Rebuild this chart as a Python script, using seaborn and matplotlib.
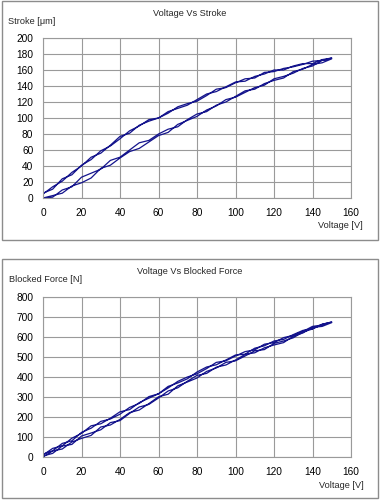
import numpy as np
import pandas as pd
import matplotlib
matplotlib.use("Agg")
import matplotlib.pyplot as plt
from matplotlib.patches import Rectangle
from matplotlib import font_manager
import seaborn as sns

# ---------------- data ----------------
voltage = [0, 5, 10, 15, 20, 25, 30, 35, 40, 45, 50, 55, 60, 65, 70, 75,
           80, 85, 90, 95, 100, 105, 110, 115, 120, 125, 130, 135, 140, 145, 150]

stroke_up_1 = [0, 3, 6, 15, 19, 25, 37, 41, 50, 58, 62, 70, 78, 82, 92, 97,
               102, 110, 115, 123, 126, 132, 138, 141, 149, 152, 156, 162, 165, 172, 175]
stroke_up_2 = [0, 1, 10, 14, 26, 31, 36, 47, 51, 60, 69, 72, 80, 86, 89, 98,
               105, 108, 116, 120, 127, 134, 136, 143, 147, 150, 158, 161, 167, 169, 174]
stroke_down_1 = [5, 14, 21, 32, 40, 51, 56, 66, 77, 81, 91, 96, 100, 108, 112, 116,
                 123, 130, 133, 139, 145, 146, 152, 155, 160, 160, 165, 168, 168, 173, 175]
stroke_down_2 = [6, 11, 24, 29, 41, 48, 59, 65, 74, 84, 90, 98, 100, 106, 114, 118,
                 121, 128, 136, 138, 144, 149, 150, 157, 158, 162, 164, 167, 171, 172, 174]

force_up_1 = [0, 30, 40, 75, 93, 108, 150, 160, 188, 222, 235, 267, 301, 314, 356, 375,
              395, 428, 445, 473, 481, 505, 531, 537, 568, 580, 596, 625, 640, 663, 675]
force_up_2 = [5, 18, 55, 63, 105, 120, 136, 172, 182, 218, 250, 263, 295, 330, 346, 379,
              408, 418, 449, 460, 485, 513, 521, 546, 560, 572, 604, 620, 648, 653, 672]
force_down_1 = [10, 43, 56, 94, 118, 156, 166, 194, 226, 237, 272, 294, 316, 353, 370, 391,
                425, 450, 461, 485, 510, 514, 544, 556, 580, 588, 612, 633, 641, 664, 675]
force_down_2 = [14, 31, 68, 81, 123, 144, 178, 190, 214, 248, 268, 302, 316, 345, 378, 400,
                416, 442, 473, 481, 505, 527, 536, 564, 572, 597, 608, 628, 653, 660, 672]

x_ticks = [0, 20, 40, 60, 80, 100, 120, 140, 160]
stroke_ticks = [0, 20, 40, 60, 80, 100, 120, 140, 160, 180, 200]
force_ticks = [0, 100, 200, 300, 400, 500, 600, 700, 800]


def path(up1, down1, up2, down2):
    v = voltage + voltage[::-1] + voltage + voltage[::-1]
    y = up1 + down1[::-1] + up2 + down2[::-1]
    return pd.DataFrame({"V": v, "Y": y, "order": np.arange(len(v))})


stroke_df = path(stroke_up_1, stroke_down_1, stroke_up_2, stroke_down_2)
force_df = path(force_up_1, force_down_1, force_up_2, force_down_2)

# ---------------- style ----------------
sns.set_theme(style="whitegrid")
names = {f.name for f in font_manager.fontManager.ttflist}
if "Liberation Sans Narrow" in names:
    FAM, FS, LFS = "Liberation Sans Narrow", 8.6, 7.8
else:
    FAM, FS, LFS = "Liberation Sans", 7.3, 6.6
plt.rcParams["font.family"] = [FAM, "DejaVu Sans"]
LINE = "#14148c"
GRID = "#9a9a9a"

fig = plt.figure(figsize=(3.8, 5.0), dpi=100)
fig.patch.set_facecolor("white")

# panel borders
fig.patches.append(Rectangle((1.5 / 380, 1 - 239.5 / 500), 376.5 / 380, 238.5 / 500,
                             transform=fig.transFigure, fill=False, edgecolor="#8c8c8c", lw=1))
fig.patches.append(Rectangle((1.5 / 380, 1 - 497.5 / 500), 376.5 / 380, 238.5 / 500,
                             transform=fig.transFigure, fill=False, edgecolor="#8c8c8c", lw=1))

ax1 = fig.add_axes([43 / 380, 1 - 198 / 500, 308 / 380, 160 / 500])
ax2 = fig.add_axes([43 / 380, 1 - 457 / 500, 308 / 380, 160 / 500])

for ax, df, yt in [(ax1, stroke_df, stroke_ticks), (ax2, force_df, force_ticks)]:
    sns.lineplot(data=df, x="V", y="Y", sort=False, estimator=None, ax=ax,
                 color=LINE, lw=0.9)
    ax.set_xlim(0, 160)
    ax.set_ylim(yt[0], yt[-1])
    ax.set_xticks(x_ticks)
    ax.set_yticks(yt)
    ax.set_xlabel("")
    ax.set_ylabel("")
    ax.grid(True, color=GRID, lw=0.8)
    for s in ax.spines.values():
        s.set_color(GRID)
        s.set_linewidth(0.8)
    ax.tick_params(axis="both", labelsize=FS, colors="black", length=3,
                   color=GRID, pad=4, direction="out")
    ax.set_facecolor("white")

fig.text(0.5, 1 - 13 / 500, "Voltage Vs Stroke", ha="center", va="center", fontsize=LFS)
fig.text(8 / 380, 1 - 21 / 500, "Stroke [\u03bcm]", ha="left", va="center", fontsize=LFS)
fig.text(363 / 380, 1 - 226 / 500, "Voltage [V]", ha="right", va="center", fontsize=LFS)

fig.text(0.5, 1 - 272 / 500, "Voltage Vs Blocked Force", ha="center", va="center", fontsize=LFS)
fig.text(9 / 380, 1 - 279 / 500, "Blocked Force [N]", ha="left", va="center", fontsize=LFS)
fig.text(364 / 380, 1 - 486 / 500, "Voltage [V]", ha="right", va="center", fontsize=LFS)

fig.savefig("out.png", dpi=100)
